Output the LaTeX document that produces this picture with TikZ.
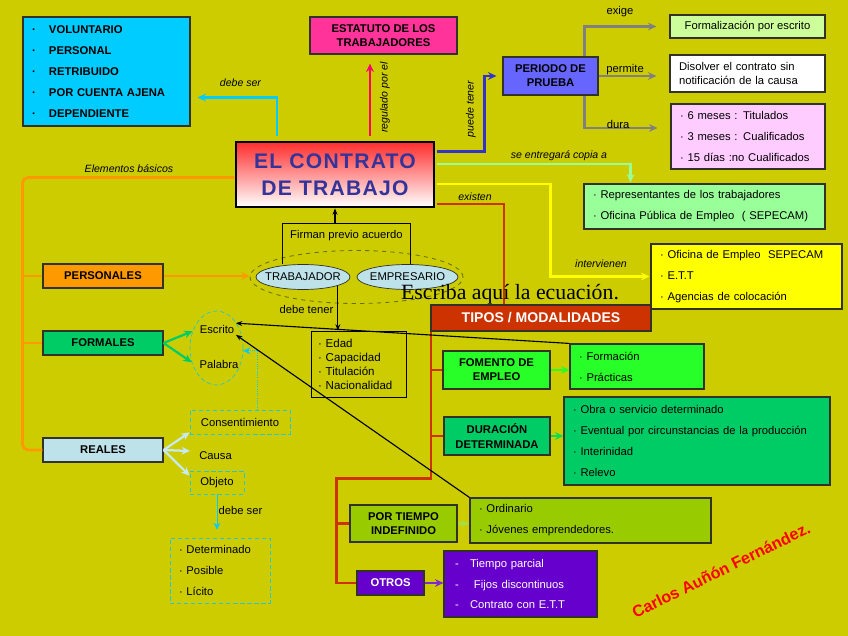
\documentclass[tikz,border=0pt]{standalone}
\usepackage{fontspec}
\setmainfont{Liberation Sans}
\newfontfamily\serifeq{Liberation Serif}
\usepackage{tikz}
\usetikzlibrary{arrows.meta, shapes.geometric}
\usepackage{xcolor}

\definecolor{fondo}{RGB}{204,204,0}
\definecolor{cian}{RGB}{0,204,255}
\definecolor{fucsia}{RGB}{255,51,153}
\definecolor{rosaflecha}{RGB}{255,0,102}
\definecolor{azulper}{RGB}{102,102,255}
\definecolor{azulflecha}{RGB}{51,51,204}
\definecolor{azultit}{RGB}{51,51,153}
\definecolor{rojotit}{RGB}{255,45,45}
\definecolor{verdeclaro}{RGB}{204,255,153}
\definecolor{rosa}{RGB}{255,204,255}
\definecolor{verdeagua}{RGB}{153,255,153}
\definecolor{amarillo}{RGB}{255,255,0}
\definecolor{teja}{RGB}{204,51,0}
\definecolor{verdevivo}{RGB}{40,255,40}
\definecolor{verdemar}{RGB}{0,204,102}
\definecolor{oliva}{RGB}{153,204,0}
\definecolor{olivaflecha}{RGB}{170,220,60}
\definecolor{morado}{RGB}{102,0,204}
\definecolor{moradoflecha}{RGB}{130,40,210}
\definecolor{naranja}{RGB}{255,153,0}
\definecolor{celeste}{RGB}{190,226,234}
\definecolor{celesteflecha}{RGB}{200,232,242}
\definecolor{turquesa}{RGB}{40,200,200}
\definecolor{grisflecha}{RGB}{128,128,128}
\definecolor{borde}{RGB}{50,50,40}
\definecolor{olivaosc}{RGB}{110,110,0}
\definecolor{rojofirma}{RGB}{255,0,0}

\newlength{\unitpx}
\setlength{\unitpx}{0.025cm}
\newcommand{\vineta}{\makebox[17\unitpx][l]{·}}
\newcommand{\guion}{\makebox[15\unitpx][l]{-}}

\begin{document}
\begin{tikzpicture}[
    x=0.025cm, y=-0.025cm,
    font=\fontsize{8}{9.6}\selectfont,
    caja/.style={draw=borde, line width=0.8pt, inner sep=0pt, align=center},
    cajatit/.style={caja, font=\fontsize{8}{10}\selectfont\bfseries},
    lista/.style={caja, align=left, inner xsep=9\unitpx, font=\fontsize{8}{14.9}\selectfont},
    punteada/.style={draw=turquesa, line width=0.5pt, densely dashed},
    elipse/.style={ellipse, draw=borde, line width=0.5pt, fill=celeste, inner sep=0pt, minimum height=25\unitpx},
    etiq/.style={font=\fontsize{7.5}{9}\selectfont\itshape, inner sep=0pt},
    rotulo/.style={inner sep=1pt},
    gruesa/.style={line width=2pt},
    fina/.style={line width=0.8pt, -{Stealth[length=4.5pt, width=3.5pt]}},
    >={Stealth[length=6pt, width=5.5pt]}
  ]
    \useasboundingbox (0,0) rectangle (848,636);
    \fill[fondo] (0,0) rectangle (848,636);

    % ---- centro ----
    \node[caja, draw=black, line width=2pt, top color=rojotit, bottom color=white, text=azultit,
          font=\fontsize{15}{19}\selectfont\bfseries\addfontfeature{LetterSpace=6},
          minimum width=198\unitpx, minimum height=65\unitpx]
          (contrato) at (335,174.5) {EL CONTRATO\\DE TRABAJO};

    % ---- arriba ----
    \node[lista, fill=cian, text width=149\unitpx, minimum height=109\unitpx, font=\fontsize{8}{14.9}\selectfont\bfseries]
          (caract) at (106.5,71.5) {\vineta VOLUNTARIO\\\vineta PERSONAL\\\vineta RETRIBUIDO\\\vineta POR CUENTA AJENA\\\vineta DEPENDIENTE};
    \node[cajatit, fill=fucsia, minimum width=147\unitpx, minimum height=37\unitpx] (estatuto) at (383.5,35.5) {ESTATUTO DE LOS\\TRABAJADORES};
    \node[cajatit, fill=azulper, minimum width=95\unitpx, minimum height=38\unitpx] (periodo) at (550.5,76) {PERIODO DE\\PRUEBA};

    \node[caja, fill=verdeclaro, minimum width=155\unitpx, minimum height=23\unitpx] (formaliz) at (747.5,26.5) {Formalización por escrito};
    \node[lista, fill=white, text width=137\unitpx, minimum height=37\unitpx, font=\fontsize{8}{10.6}\selectfont] (disolver) at (747.5,73.5) {Disolver el contrato sin\\notificación de la causa};
    \node[lista, fill=rosa, text width=136\unitpx, minimum height=65\unitpx] (meses) at (748,136.5) {· 6 meses : Titulados\\· 3 meses : Cualificados\\· 15 días :no Cualificados};
    \node[lista, fill=verdeagua, text width=223\unitpx, minimum height=45\unitpx] (copia) at (704.5,206.5) {· Representantes de los trabajadores\\· Oficina Pública de Empleo \ ( SEPECAM)};
    \node[lista, fill=amarillo, text width=173\unitpx, minimum height=65\unitpx] (agentes) at (746.5,276.5) {· Oficina de Empleo \ SEPECAM\\· E.T.T\\· Agencias de colocación};

    % ---- tipos / modalidades ----
    \node[cajatit, fill=teja, text=white, font=\fontsize{10}{11}\selectfont\bfseries, minimum width=220\unitpx, minimum height=26\unitpx] (tipos) at (541,318) {TIPOS / MODALIDADES};
    \node[cajatit, fill=verdevivo, minimum width=107\unitpx, minimum height=38\unitpx] (fomento) at (496.5,370) {FOMENTO DE\\EMPLEO};
    \node[lista, fill=verdevivo, text width=116\unitpx, minimum height=45\unitpx] (formacion) at (637,366.5) {· Formación\\· Prácticas};
    \node[cajatit, fill=verdemar, minimum width=106\unitpx, minimum height=38\unitpx] (durdet) at (497,436) {DURACIÓN\\DETERMINADA};
    \node[lista, fill=verdemar, text width=248\unitpx, minimum height=88\unitpx] (modos) at (697,441) {· Obra o servicio determinado\\· Eventual por circunstancias de la producción\\· Interinidad\\· Relevo};
    \node[cajatit, fill=oliva, minimum width=107\unitpx, minimum height=37\unitpx] (indef) at (403.5,523.5) {POR TIEMPO\\INDEFINIDO};
    \node[lista, fill=oliva, text width=223\unitpx, minimum height=45\unitpx] (ordinario) at (590.5,520.5) {· Ordinario\\· Jóvenes emprendedores.};
    \node[cajatit, fill=morado, text=white, minimum width=67\unitpx, minimum height=24\unitpx] (otros) at (390.5,583) {OTROS};
    \node[lista, fill=morado, text=white, inner xsep=11\unitpx, text width=131\unitpx, minimum height=66\unitpx] (parcial) at (520.5,584)
          {\guion Tiempo parcial\\\guion\hspace{4\unitpx}Fijos discontinuos\\\guion Contrato con E.T.T};

    % ---- elementos ----
    \node[cajatit, fill=naranja, minimum width=120\unitpx, minimum height=24\unitpx] (personales) at (103,276) {PERSONALES};
    \node[cajatit, fill=verdemar, minimum width=120\unitpx, minimum height=24\unitpx] (formales) at (103,343) {FORMALES};
    \node[cajatit, fill=celeste, minimum width=120\unitpx, minimum height=24\unitpx] (reales) at (103,450) {REALES};

    \node[ellipse, punteada, minimum width=53\unitpx, minimum height=74\unitpx, inner sep=0pt] (formas) at (216.5,348) {};
    \node[rotulo] (escrito) at (217,329) {Escrito};
    \node[rotulo] (palabra) at (219,364) {Palabra};

    \node[punteada, minimum width=100\unitpx, minimum height=24\unitpx] (consent) at (240,422) {Consentimiento};
    \node[rotulo, anchor=west, inner xsep=9\unitpx] (causa) at (190,456) {Causa};
    \node[punteada, minimum width=54\unitpx, minimum height=23\unitpx] (objeto) at (217,482.5) {Objeto};
    \node[lista, punteada, text width=82\unitpx, minimum height=65\unitpx] (licito) at (220,570.5) {· Determinado\\· Posible\\· Lícito};

    % ---- partes ----
    \node[ellipse, draw=olivaosc, dashed, line width=0.6pt, minimum width=213\unitpx, minimum height=53\unitpx, inner sep=0pt] (partes) at (356.5,277) {};
    \node[elipse, minimum width=94\unitpx] (trab) at (303,277) {\makebox[0pt]{TRABAJADOR}};
    \node[elipse, minimum width=101\unitpx] (emp) at (407.5,277) {\makebox[0pt]{EMPRESARIO}};
    \node[inner sep=0pt, minimum width=127\unitpx, minimum height=24\unitpx] (acuerdo) at (346.5,236) {Firman previo acuerdo};
    \node[lista, draw=black, line width=0.6pt, inner xsep=7\unitpx, text width=81\unitpx, minimum height=66\unitpx, font=\fontsize{8.2}{9.9}\selectfont]
          (requis) at (358.5,364) {· Edad\\· Capacidad\\· Titulación\\· Nacionalidad};

    % ---- conectores del contrato ----
    \draw[gruesa, cian, ->, shorten <=5\unitpx, shorten >=7\unitpx] ([xshift=-58\unitpx]contrato.north) |- ([yshift=-26\unitpx]caract.east);
    \draw[gruesa, rosaflecha, ->, shorten <=5\unitpx, shorten >=9\unitpx] ([xshift=35\unitpx]contrato.north) -- ([xshift=35\unitpx]contrato.north |- estatuto.south);
    \draw[gruesa, azulflecha, ->, shorten <=2\unitpx, shorten >=6\unitpx] ([yshift=23\unitpx]contrato.east) -- ++(49,0) |- (periodo.west);
    \draw[gruesa, verdeagua, ->, shorten <=2\unitpx, shorten >=1\unitpx] ([yshift=10.5\unitpx]contrato.east) -| ([xshift=-74\unitpx]copia.north);
    \draw[gruesa, amarillo, ->, shorten <=2\unitpx, shorten >=1\unitpx] ([yshift=-9.5\unitpx]contrato.east) -- ++(115,0) |- (agentes.west);
    \draw[gruesa, teja, shorten <=2\unitpx] ([yshift=-29.5\unitpx]contrato.east) -| ([xshift=-37\unitpx]tipos.north);

    \node[etiq] (l1) at (240.5,83) {debe ser};
    \node[etiq, rotate=90] (l2) at (385,97.5) {regulado por el};
    \node[etiq, rotate=90] (l3) at (471,109) {puede tener};
    \node[etiq] (l4) at (559,156) {se entregará copia a};
    \node[etiq] (l5) at (601,264) {intervienen};
    \node[etiq] (l6) at (475,196.5) {existen};
    \node[etiq] (l7) at (129,169) {Elementos básicos};

    % ---- periodo de prueba ----
    \draw[gruesa, grisflecha, ->, shorten >=13\unitpx] ([xshift=-14\unitpx]periodo.north east) |- (formaliz.west);
    \draw[gruesa, grisflecha, ->, shorten >=13\unitpx] (periodo.east) -- (periodo.east -| disolver.west);
    \draw[gruesa, grisflecha, ->, shorten >=13\unitpx] ([xshift=-14\unitpx]periodo.south east) |- ([yshift=8.5\unitpx]meses.west);
    \node[rotulo] (l8) at (620,12) {exige};
    \node[rotulo] (l9) at (625,70) {permite};
    \node[rotulo] (l10) at (618,124) {dura};

    % ---- elementos basicos ----
    \draw[gruesa, naranja, rounded corners=4pt] ([yshift=-3\unitpx]contrato.west) -| ([xshift=-20\unitpx]reales.west) -- (reales.west);
    \draw[gruesa, naranja] ([xshift=-20\unitpx]personales.west) -- (personales.west);
    \draw[gruesa, naranja] ([xshift=-20\unitpx]formales.west) -- (formales.west);
    \draw[gruesa, naranja, ->, line width=1.6pt] (personales.east) -- (personales.east -| partes.west);

    \draw[gruesa, verdemar, ->, line width=1.6pt] (formales.east) -- (formas.145);
    \draw[gruesa, verdemar, ->, line width=1.6pt] (formales.east) -- (formas.-150);
    \draw[gruesa, celesteflecha, ->, line width=1.6pt] (reales.east) -- ([yshift=2\unitpx]consent.south west);
    \draw[gruesa, celesteflecha, ->, line width=1.6pt] (reales.east) -- ([yshift=5\unitpx]causa.west);
    \draw[gruesa, celesteflecha, ->, line width=1.6pt] (reales.east) -- ([yshift=-5\unitpx]objeto.north west);

    \draw[cian, densely dotted, line width=0.6pt, -{Stealth[length=5pt, width=5pt]}] ([xshift=17\unitpx]consent.north) |- (formas.-6);
    \draw[cian, line width=0.6pt, -{Stealth[length=5pt, width=5pt]}, shorten >=8\unitpx] (objeto.south) -- (objeto.south |- licito.north);
    \node[rotulo] (l11) at (240.5,510.5) {debe ser};

    % ---- partes del contrato ----
    \draw[line width=0.6pt] (acuerdo.west |- trab.north) -- (acuerdo.north west) -- (acuerdo.north east) -- (acuerdo.east |- emp.north);
    \draw[fina] (acuerdo.north -| contrato.south) -- (contrato.south);
    \draw[fina] (trab.-14) -- (trab.-14 |- requis.north);
    \node[rotulo] (l12) at (306.5,309) {debe tener};

    % ---- modalidades ----
    \draw[gruesa, teja] ([xshift=0.5\unitpx]tipos.south west) -- ++(0,147) -| ([xshift=-20\unitpx]otros.west) -- (otros.west);
    \draw[gruesa, teja] ([xshift=0.5\unitpx]tipos.south west |- fomento.west) -- (fomento.west);
    \draw[gruesa, teja] ([xshift=0.5\unitpx]tipos.south west |- durdet.west) -- (durdet.west);
    \draw[gruesa, teja] ([xshift=-13\unitpx]indef.west) -- (indef.west);

    \draw[gruesa, verdevivo, ->, line width=1.6pt] (fomento.east) -- (fomento.east -| formacion.west);
    \draw[gruesa, verdemar!70!verdevivo, ->, line width=1.6pt] (durdet.east) -- (durdet.east -| modos.west);
    \draw[gruesa, olivaflecha, ->, line width=1.6pt] (indef.east) -- (indef.east -| ordinario.west);
    \draw[gruesa, moradoflecha, ->, line width=1.6pt] (otros.east) -- (otros.east -| parcial.west);

    \draw[fina] (formacion.north west) -- (escrito.north east);
    \draw[fina] (ordinario.north west) -- (escrito.south east);

    % ---- textos sueltos ----
    \node[font=\serifeq\fontsize{15.5}{18}\selectfont, inner sep=0pt] (ecuacion) at (510,294) {Escriba aquí la ecuación.};
    \node[font=\fontsize{11.5}{13}\selectfont\bfseries, text=rojofirma, rotate=26] (autor) at (721,570) {Carlos Auñón Fernández.};
\end{tikzpicture}
\end{document}
